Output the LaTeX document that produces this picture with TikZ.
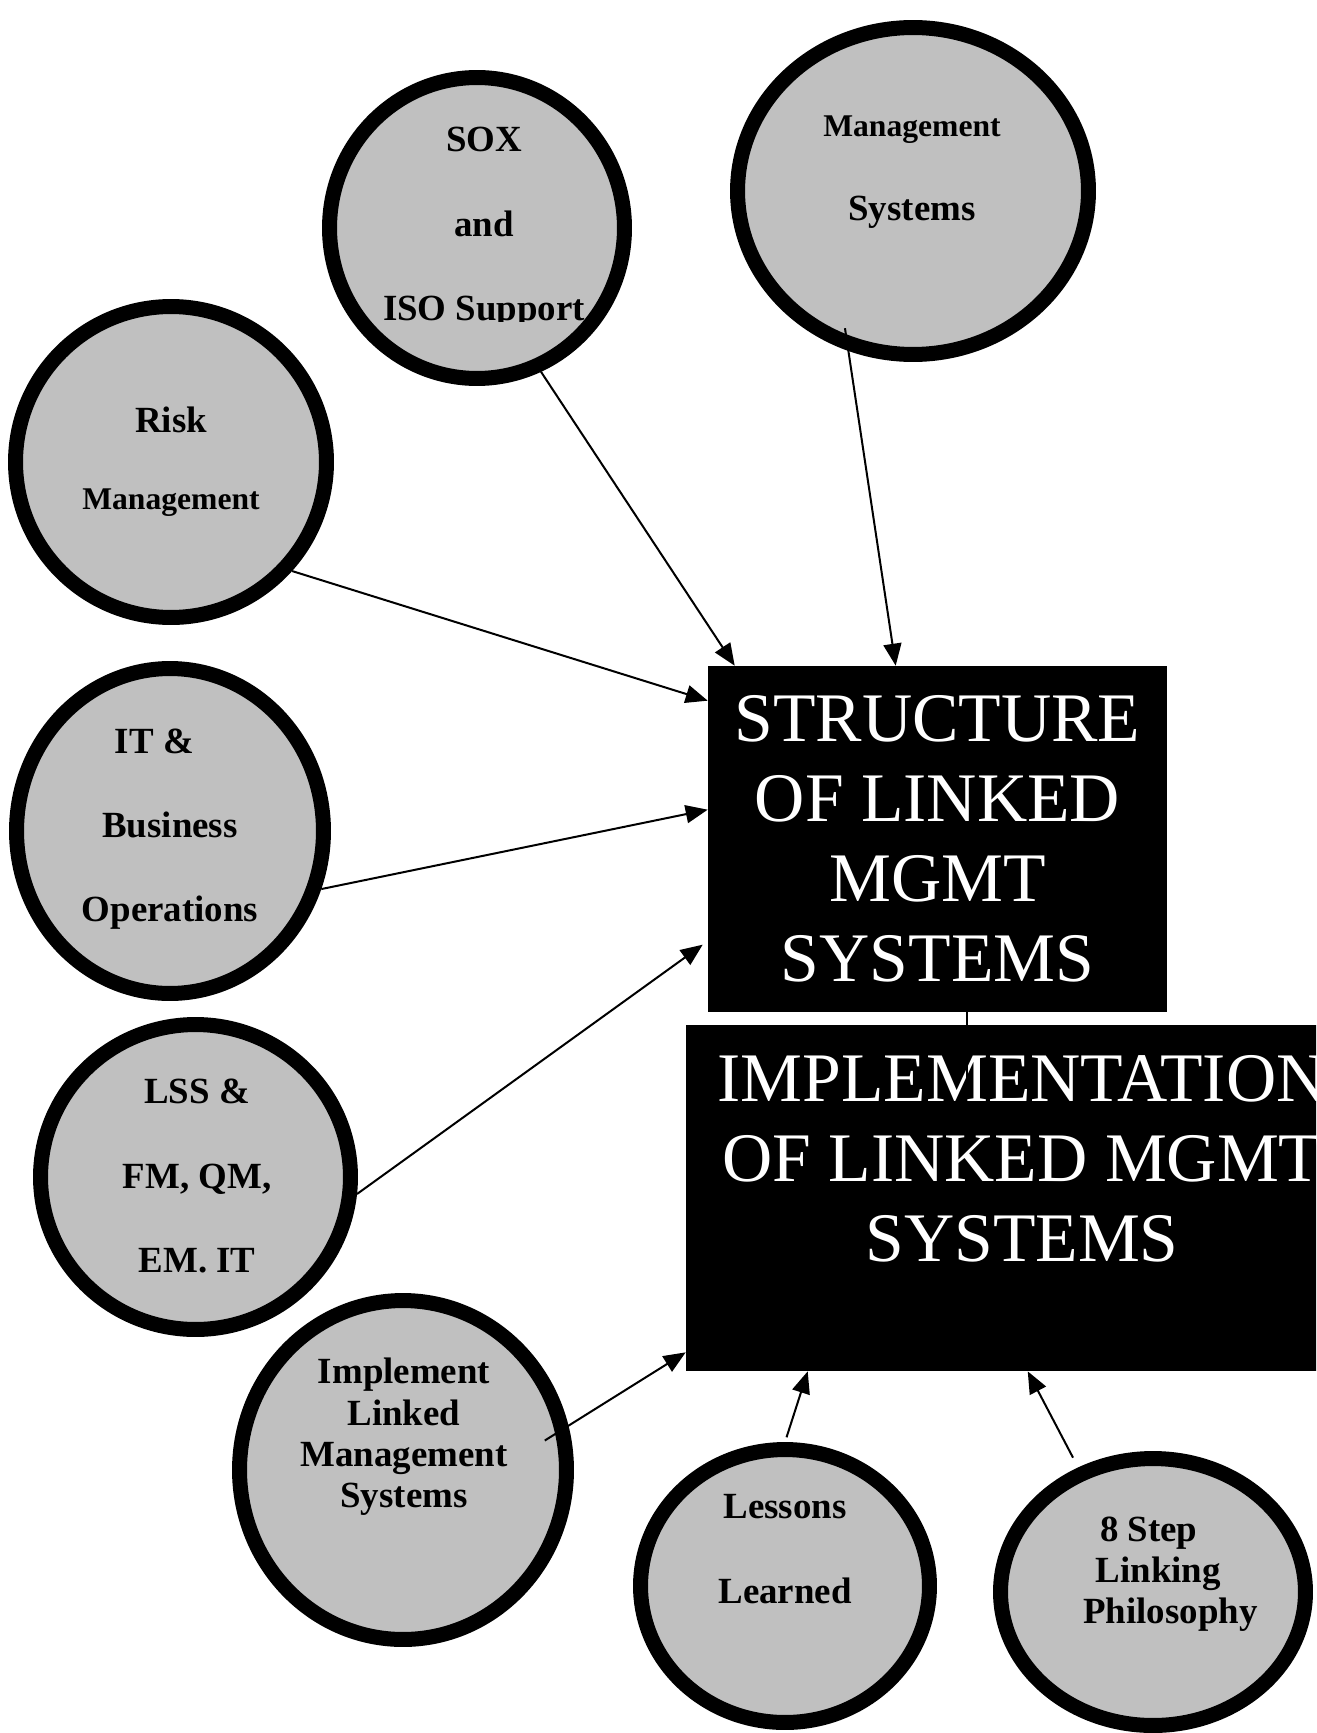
\documentclass[tikz,border=0pt]{standalone}
\usepackage{fontspec}
\setmainfont{Liberation Serif}
\usetikzlibrary{arrows.meta,calc,shapes.geometric}
\definecolor{bubblegray}{RGB}{192,192,192}

\begin{document}
\begin{tikzpicture}[x=0.02cm,y=-0.02cm]
\tikzstyle{bubble} = [ellipse, draw, fill=bubblegray, line width=0.3cm, inner sep=0pt]
\tikzstyle{btext} = [align=center, font=\bfseries\fontsize{21}{48}\selectfont]
\tikzstyle{bsingle} = [align=center, font=\bfseries\fontsize{21}{23.5}\selectfont]
\tikzstyle{block} = [rectangle, fill=black, text=white, align=center, inner sep=0pt, font=\fontsize{39.6}{45.5}\selectfont]
\tikzstyle{arr} = [-{Triangle[length=0.44cm,width=0.36cm]}, line width=0.04cm]

\useasboundingbox (0,0) rectangle (1316,1733);
\clip (0,0) rectangle (1316,1733);

\node at (937.5,839) [block, minimum width=9.18cm, minimum height=6.92cm] (SC) {STRUCTURE\\OF LINKED\\MGMT\\SYSTEMS};
\node at (1022,1198) [block, minimum width=13.44cm, minimum height=6.92cm] (IM) {IMPLEMENTATION\\OF LINKED MGMT\\SYSTEMS\\~};

\coordinate (Mcut) at (967,1088);
\draw[line width=0.03cm] (SC.south -| Mcut) -- (Mcut);

% the circles
\node at (477,228) [bubble, minimum width=5.90cm, minimum height=6.02cm] (SOX) {};
\node at (913,191) [bubble, minimum width=7.02cm, minimum height=6.54cm] (MS) {};
\node at (171,462) [bubble, minimum width=6.22cm, minimum height=6.22cm] (RM) {};
\node at (170,831) [bubble, minimum width=6.14cm, minimum height=6.50cm] (IT) {};
\node at (195.5,1177) [bubble, minimum width=6.20cm, minimum height=6.10cm] (LSS) {};
\node at (403,1470) [bubble, minimum width=6.54cm, minimum height=6.78cm] (ILMS) {};
\node at (785,1586) [bubble, minimum width=5.78cm, minimum height=5.46cm] (LL) {};
\node at (1153,1592) [bubble, minimum width=6.10cm, minimum height=5.34cm] (ES) {};

\begin{scope}
\clip (300,0) rectangle (700,322);
\node at (484,228) [btext] (SOXt) {SOX\\and\\ISO Support};
\end{scope}
\node at (912,172) [btext] (MSt) {{\fontsize{18}{48}\selectfont Management}\\Systems};
\node at (171,462) [btext] (RMt) {Risk\\[-4pt]{\fontsize{18}{48}\selectfont Management}};
\node at (170,829) [btext] (ITt) {IT \&\hspace*{0.85em}\\Business\\Operations};
\node at (197,1176) [btext] (LSSt) {LSS \&\\FM, QM,\\EM. IT};
\node at (404,1437) [bsingle] (ILMSt) {Implement\\Linked\\Management\\Systems};
\node at (785,1549) [btext] (LLt) {Lessons\\Learned};
\node at (1083,1574) [bsingle, align=left, anchor=west, inner sep=0pt] (ESt) {\hspace*{9.5pt}8 Step\\\hspace*{7pt}Linking\\Philosophy};

\draw[arr] (SOX.-66) -- ($(SC.north west)+(27,0)$);
\draw[arr, shorten <=-0.46cm] (MS.-112) -- ($(SC.north west)+(188,0)$);
\draw[arr] (RM.-42) -- ($(SC.north west)+(0,35)$);
\draw[arr] (IT.-21) -- ($(SC.north west)+(0,144)$);
\draw[arr] (LSS.-6) -- ($(SC.north west)+(-5,279)$);

\draw[arr, shorten <=-0.56cm] (ILMS.15) -- ($(IM.south west)+(0,-19)$);
\draw[arr, shorten <=0.1cm] (LL.north) -- ($(IM.south west)+(122,0)$);
\draw[arr, shorten <=0.22cm] (ES.121) -- ($(IM.south west)+(342,0)$);

\end{tikzpicture}
\end{document}
